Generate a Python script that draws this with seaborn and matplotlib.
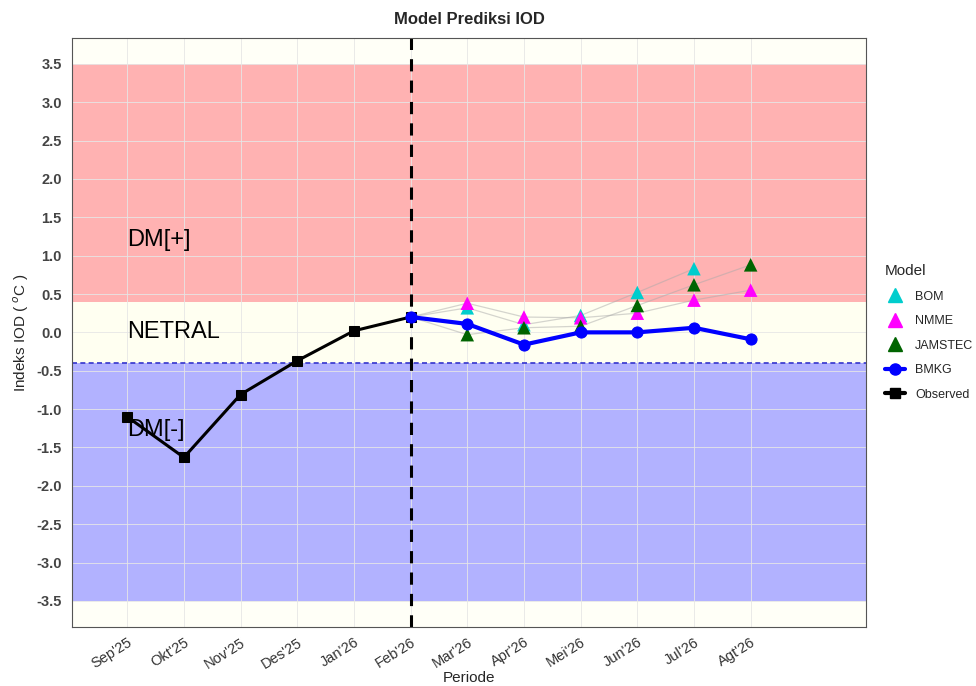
import numpy as np
import pandas as pd
import matplotlib
matplotlib.use("Agg")
import matplotlib.pyplot as plt
import seaborn as sns
from matplotlib.lines import Line2D

periods = ["Sep'25", "Okt'25", "Nov'25", "Des'25", "Jan'26", "Feb'26",
           "Mar'26", "Apr'26", "Mei'26", "Jun'26", "Jul'26", "Agt'26"]
obs_periods = periods[:6]
observed = [-1.10, -1.63, -0.81, -0.37, 0.02, 0.20]
fc_periods = periods[5:]
bmkg = [0.20, 0.11, -0.16, 0.00, 0.00, 0.06, -0.09]
bom = [0.20, 0.32, 0.10, 0.22, 0.52, 0.83, np.nan]
nmme = [0.20, 0.38, 0.20, 0.19, 0.25, 0.42, 0.55]
jamstec = [0.20, -0.03, 0.06, 0.08, 0.35, 0.62, 0.88]
yticks = [3.5, 3.0, 2.5, 2.0, 1.5, 1.0, 0.5, 0.0, -0.5, -1.0, -1.5, -2.0, -2.5, -3.0, -3.5]

sns.set_theme(style="whitegrid")
plt.rcParams['font.family'] = ['Liberation Sans', 'DejaVu Sans']

pos = {p: i for i, p in enumerate(periods)}
df_obs = pd.DataFrame({"x": [pos[p] for p in obs_periods], "y": observed})
models = {"BOM": bom, "NMME": nmme, "JAMSTEC": jamstec}
df_mod = pd.concat([pd.DataFrame({"x": [pos[p] for p in fc_periods], "y": v, "Model": k})
                    for k, v in models.items()], ignore_index=True)
df_bmkg = pd.DataFrame({"x": [pos[p] for p in fc_periods], "y": bmkg})

colors = {"BOM": "#00CDCD", "NMME": "#FF00FF", "JAMSTEC": "#006400"}

fig, ax = plt.subplots(figsize=(9.76, 6.86), dpi=100)
fig.subplots_adjust(left=0.074, right=0.887, top=0.945, bottom=0.086)

ax.set_xlim(-0.97, 13.03)
ax.set_ylim(-3.84, 3.84)
ax.set_facecolor("white")

ax.axhspan(0.4, 3.5, color="#FF0000", alpha=0.3, lw=0, zorder=0.5)
ax.axhspan(-0.4, 0.4, color="#FFFFF0", alpha=0.9, lw=0, zorder=0.5)
ax.axhspan(-3.5, -0.4, color="#0000FF", alpha=0.3, lw=0, zorder=0.5)
ax.axhspan(3.5, 3.84, color="#FFFFF0", alpha=0.5, lw=0, zorder=0.4)
ax.axhspan(-3.84, -3.5, color="#FFFFF0", alpha=0.5, lw=0, zorder=0.4)
ax.axhline(-0.4, color="#3333CC", ls=(0, (3, 2)), lw=1.2, zorder=1)
ax.axvline(5, color="black", ls=(0, (4, 3)), lw=2.2, zorder=2)

# thin connecting lines for models
for k in models:
    sub = df_mod[df_mod.Model == k].dropna()
    sns.lineplot(data=sub, x="x", y="y", ax=ax, color="#AAAAAA", alpha=0.5,
                 lw=0.9, legend=False, zorder=2)

pts = df_mod[df_mod.x > pos["Feb'26"]].dropna()
sns.scatterplot(data=pts, x="x", y="y", hue="Model", palette=colors,
                marker="^", s=95, edgecolor="none", ax=ax, legend=False, zorder=3)

sns.lineplot(data=df_obs, x="x", y="y", ax=ax, color="black", lw=2.2,
             marker="s", markersize=7, markeredgecolor="black", legend=False, zorder=4)
sns.lineplot(data=df_bmkg, x="x", y="y", ax=ax, color="#0000FF", lw=3,
             marker="o", markersize=8, markeredgecolor="#0000FF", legend=False, zorder=4)

for txt, yv in [("DM[+]", 1.2), ("NETRAL", 0.0), ("DM[-]", -1.27)]:
    ax.text(0, yv, txt, fontsize=17, va="center", ha="left", color="black", zorder=5)

ax.set_xticks(range(len(periods)))
ax.set_xticklabels(periods, rotation=32, ha="right", rotation_mode="anchor",
                   fontsize=10.5, color="#333333")
ax.set_yticks(yticks)
ax.set_yticklabels([f"{v:.1f}" for v in yticks], fontsize=10.5, color="#444444",
                   fontweight="bold")
ax.tick_params(axis="both", length=4, color="#333333", direction="out")
ax.tick_params(axis="x", pad=2)
ax.grid(True, color="#E6E6E6", lw=0.6)
ax.set_axisbelow(True)
for s in ax.spines.values():
    s.set_color("#555555")
    s.set_linewidth(0.8)

ax.set_xlabel("Periode", fontsize=11, labelpad=0)
ax.set_ylabel("Indeks IOD ( $^{o}$C )", fontsize=11)
ax.set_title("Model Prediksi IOD", fontsize=12, fontweight="bold", pad=10)

handles = [
    Line2D([], [], ls="", marker="^", color=colors["BOM"], markersize=10, label="BOM"),
    Line2D([], [], ls="", marker="^", color=colors["NMME"], markersize=10, label="NMME"),
    Line2D([], [], ls="", marker="^", color=colors["JAMSTEC"], markersize=10, label="JAMSTEC"),
    Line2D([], [], ls="-", lw=3, marker="o", color="#0000FF", markersize=8, label="BMKG"),
    Line2D([], [], ls="-", lw=3, marker="s", color="black", markersize=7, label="Observed"),
]
leg = ax.legend(handles=handles, title="Model", loc="center left",
                bbox_to_anchor=(1.01, 0.5), frameon=False, fontsize=9,
                title_fontsize=11, handlelength=1.6, labelspacing=1.0,
                alignment="left")

fig.savefig("out.png", dpi=100)
